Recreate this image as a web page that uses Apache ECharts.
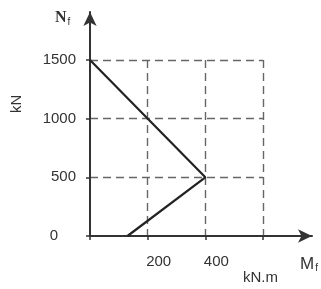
<!DOCTYPE html>
<html>
<head>
<meta charset="utf-8">
<script src="https://cdn.jsdelivr.net/npm/echarts@6/dist/echarts.min.js"></script>
<style>
  html, body { margin: 0; padding: 0; background: #fff; }
  #chart { width: 321px; height: 289px; }
</style>
</head>
<body>
<div id="chart"></div>
<script>
// moment Mf (kN.m) et effort Nf (kN)
const momentVals = [0, 400, 130];
const effortVals = [1500, 500, 0];
const xTickLabels = [200, 400];
const yTickLabels = [0, 500, 1000, 1500];

const myChart = echarts.init(document.getElementById("chart"));

const dash = { color: "#666", width: 1.4, type: [8, 5] };
const font = "Liberation Sans, Arial, sans-serif";

const option = {
  backgroundColor: "#fff",
  animation: false,
  grid: [
    // grille de lecture 0..600 / 0..1500
    { left: 90, right: 58, top: 60, bottom: 53 },
    // axes avec fleches
    { left: 90, right: 9, top: 12, bottom: 53 },
  ],
  xAxis: [
    {
      gridIndex: 0,
      type: "value",
      min: 0,
      max: 600,
      interval: 200,
      axisLine: { show: false },
      axisTick: { show: true, length: 4, lineStyle: { color: "#333", width: 1.5 } },
      splitLine: { show: true, showMinLine: false, lineStyle: dash },
      axisLabel: {
        margin: 18,
        fontSize: 15,
        fontFamily: font,
        color: "#333",
        padding: [0, 0, 0, 22],
        formatter: (v) => (xTickLabels.includes(v) ? String(v) : ""),
      },
    },
    {
      gridIndex: 1,
      type: "value",
      min: 0,
      max: 770,
      axisLine: {
        show: true,
        symbol: ["none", "arrow"],
        symbolSize: [10, 14],
        lineStyle: { color: "#333", width: 2 },
      },
      axisTick: { show: false },
      axisLabel: { show: false },
      splitLine: { show: false },
    },
  ],
  yAxis: [
    {
      gridIndex: 0,
      type: "value",
      min: 0,
      max: 1500,
      interval: 500,
      axisLine: { show: false },
      axisTick: { show: true, length: 4, lineStyle: { color: "#333", width: 1.5 } },
      splitLine: { show: true, showMinLine: false, lineStyle: dash },
      axisLabel: {
        margin: 14,
        fontSize: 15,
        fontFamily: font,
        color: "#333",
        formatter: (v) => (v === 0 ? "{z|0}" : yTickLabels.includes(v) ? String(v) : ""),
        rich: { z: { fontSize: 15, fontFamily: font, color: "#333", padding: [0, 18, 0, 0] } },
      },
    },
    {
      gridIndex: 1,
      type: "value",
      min: 0,
      max: 1908,
      axisLine: {
        show: true,
        symbol: ["none", "arrow"],
        symbolSize: [10, 14],
        lineStyle: { color: "#333", width: 2 },
      },
      axisTick: { show: false },
      axisLabel: { show: false },
      splitLine: { show: false },
    },
  ],
  series: [
    {
      type: "line",
      xAxisIndex: 0,
      yAxisIndex: 0,
      data: momentVals.map((m, i) => [m, effortVals[i]]),
      symbol: "none",
      lineStyle: { color: "#222", width: 2.2 },
      z: 5,
    },
  ],
  graphic: [
    {
      type: "text",
      left: 55,
      top: 10,
      style: {
        text: "{n|N}{s|f}",
        rich: {
          n: { fontSize: 16, fontFamily: "Liberation Serif, serif", fontWeight: "bold", fill: "#333" },
          s: { fontSize: 10, fontFamily: font, fill: "#333", padding: [8, 0, 0, 1] },
        },
      },
    },
    {
      type: "text",
      x: 9,
      y: 113,
      rotation: Math.PI / 2,
      style: { text: "kN", fontSize: 15, fontFamily: font, fill: "#333" },
    },
    {
      type: "text",
      left: 300,
      top: 256,
      style: {
        text: "{n|M}{s|f}",
        rich: {
          n: { fontSize: 17, fontFamily: font, fill: "#333" },
          s: { fontSize: 10, fontFamily: font, fill: "#333", padding: [8, 0, 0, 1] },
        },
      },
    },
    {
      type: "text",
      left: 243,
      top: 270,
      style: { text: "kN.m", fontSize: 15, fontFamily: font, fill: "#333" },
    },
  ],
};

myChart.setOption(option);
</script>
</body>
</html>
